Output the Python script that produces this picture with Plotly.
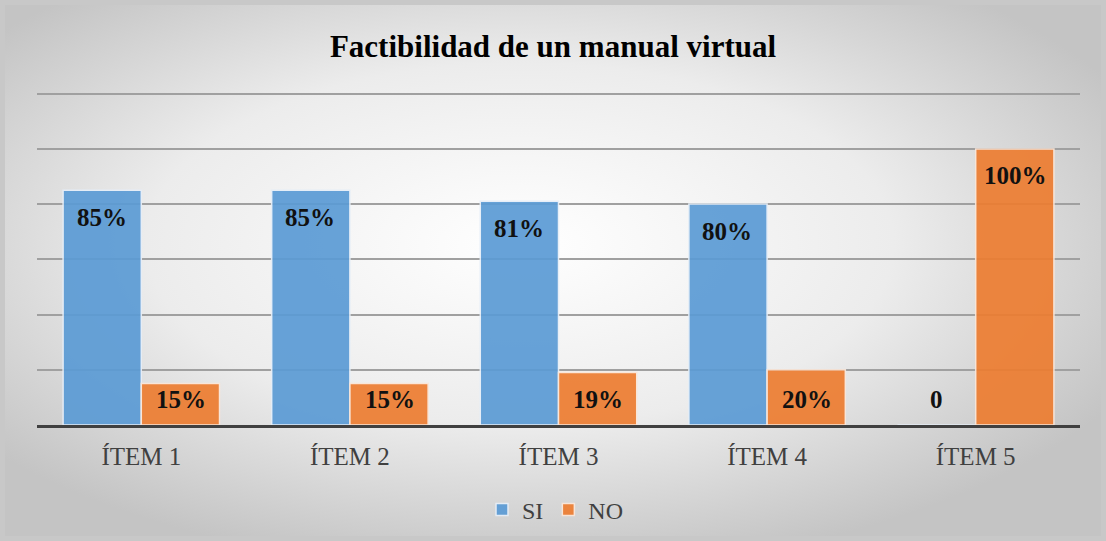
import base64
import plotly.graph_objects as go

categories = ["ÍTEM 1", "ÍTEM 2", "ÍTEM 3", "ÍTEM 4", "ÍTEM 5"]
si_values = [85, 85, 81, 80, 0]
no_values = [15, 15, 19, 20, 100]
series_names = ["SI", "NO"]
title_text = "Factibilidad de un manual virtual"

SERIF = "Times New Roman, Liberation Serif, serif"
W, H = 1106, 541
ML, MR, MT, MB = 37, 26, 92, 116
PW, PH = W - ML - MR, H - MT - MB

svg = f'''<svg xmlns="http://www.w3.org/2000/svg" width="{W}" height="{H}">
<defs><radialGradient id="g" cx="0.47" cy="0.45" r="0.62" gradientUnits="objectBoundingBox">
<stop offset="0" stop-color="#ffffff"/><stop offset="0.55" stop-color="#ececec"/><stop offset="1" stop-color="#c4c4c4"/>
</radialGradient></defs>
<rect x="0" y="0" width="{W}" height="{H}" fill="#c8c8c8"/>
<rect x="5" y="5" width="{W-10}" height="{H-10}" fill="url(#g)"/>
</svg>'''
bg_src = "data:image/svg+xml;base64," + base64.b64encode(svg.encode()).decode()

fig = go.Figure()
fig.add_trace(go.Bar(name=series_names[0], x=categories, y=si_values,
                     marker=dict(color="#5B9BD5", line=dict(color="#e6eef8", width=1.5)),
                     opacity=0.92))
fig.add_trace(go.Bar(name=series_names[1], x=categories, y=no_values,
                     marker=dict(color="#ED7D31", line=dict(color="#fbe6d8", width=1.5)),
                     opacity=0.92))

label_font = dict(family=SERIF, size=25, color="#111111", weight="bold")
for i, cat in enumerate(categories):
    for j, vals in enumerate([si_values, no_values]):
        v = vals[i]
        txt = f"{v}%" if v else "0"
        off = -0.19 if j == 0 else 0.19
        if v >= 40:
            fig.add_annotation(x=i + off, y=v, yshift=-27, text=txt,
                               showarrow=False, font=label_font, yanchor="middle",
                               xref="x", yref="y")
        else:
            fig.add_annotation(x=i + off, y=0, yshift=26, text=txt,
                               showarrow=False, font=label_font, yanchor="middle",
                               xref="x", yref="y")

fig.update_layout(
    template="none",
    font=dict(family=SERIF, color="#404040"),
    width=W, height=H,
    margin=dict(l=ML, r=MR, t=MT, b=MB, autoexpand=False),
    paper_bgcolor="#c8c8c8",
    plot_bgcolor="rgba(0,0,0,0)",
    barmode="group", bargap=0.25, bargroupgap=0,
    title=dict(text=title_text, x=0.5, xanchor="center", y=1 - 46 / H, yanchor="middle",
               font=dict(family=SERIF, size=31, color="#000000", weight="bold")),
    legend=dict(orientation="h", x=0.5 - 3 / PW, xanchor="center", y=-(510 - 425) / PH, yanchor="middle",
                font=dict(family=SERIF, size=24, color="#404040"),
                bgcolor="rgba(0,0,0,0)", traceorder="normal", itemwidth=30),
    images=[dict(source=bg_src, xref="paper", yref="paper", x=-ML / PW, y=1 + MT / PH,
                 sizex=W / PW, sizey=H / PH, sizing="stretch", layer="below", xanchor="left", yanchor="top")],
    showlegend=True,
)
fig.update_xaxes(showgrid=False, showline=True, linecolor="#404040", linewidth=3,
                 tickfont=dict(family=SERIF, size=25, color="#404040"),
                 ticks="", ticklabelstandoff=7)
fig.update_yaxes(range=[0, 120.6], dtick=20, showgrid=True, gridcolor="#a0a0a0", gridwidth=2,
                 showticklabels=False, zeroline=False, showline=False)

fig.write_html("out.html", config={"displayModeBar": False},
               post_script="document.body.style.margin='0';")
